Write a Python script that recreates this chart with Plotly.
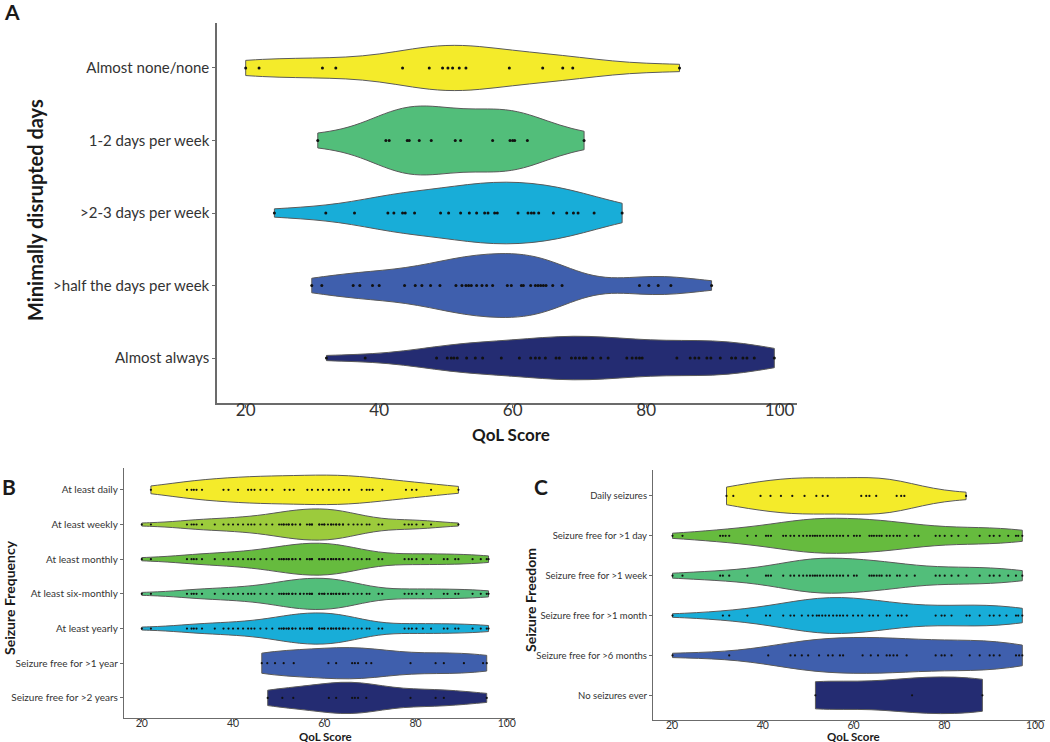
import numpy as np
import plotly.graph_objects as go

# ---------------- data (QoL scores) ----------------
# Panel A: minimally disrupted days
a_cats = ["Almost none/none", "1-2 days per week", ">2-3 days per week",
          ">half the days per week", "Almost always"]
a_none = [20, 22, 31.5, 33.5, 43.5, 47.5, 49.5, 50.3, 51, 52, 53, 59.5, 64.5, 67.5, 69, 85]
a_12 = [30.8, 41, 41.5, 44.2, 44.5, 46, 47.8, 51.4, 52.2, 57, 59.6, 60, 60.3, 62.2, 70.7]
a_23 = [24.3, 32, 36.3, 41.3, 42.2, 43.5, 43.9, 45.3, 49.2, 50.4, 52.2, 53.5, 54.6, 55.8,
        56.3, 57.3, 57.7, 60.8, 62.3, 62.8, 63.2, 63.9, 66.1, 68.1, 69.1, 69.8, 72.2, 76.4]
a_half = [29.9, 31.4, 36.1, 37.1, 39, 40, 43.8, 45.4, 46.4, 47.7, 49.1, 51.5, 52.4, 53, 53.4,
          53.8, 54.6, 55.4, 56.1, 57, 59.2, 59.8, 61.3, 61.6, 62.7, 63.4, 63.8, 64.2, 64.6,
          65, 66, 67.4, 79, 80.4, 81.8, 83.7, 89.8]
a_always = [32.1, 37.9, 48.6, 50.2, 50.8, 51.2, 51.7, 53.1, 54.4, 55.5, 58.3, 61, 62.7, 63.4,
            64, 64.9, 66.5, 67, 68.8, 69.4, 70, 70.6, 71, 72, 73.2, 74.3, 77.1, 77.9, 78.5,
            79, 79.4, 84.6, 86.6, 87.3, 87.9, 89.1, 89.7, 91.1, 92.8, 93.4, 94.5, 95.1, 96.2, 99.2]

# Panel B: seizure frequency
b_cats = ["At least daily", "At least weekly", "At least monthly", "At least six-monthly",
          "At least yearly", "Seizure free for >1 year", "Seizure free for >2 years"]
b_daily = [22.0, 29.9, 30.9, 31.4, 32.0, 33.2, 37.9, 39.0, 41.1, 43.3, 44.0, 44.7, 46.0, 47.3,
           48.6, 51.3, 52.4, 53.3, 56.3, 57.3, 58.6, 59.7, 61.0, 62.0, 63.2, 64.3, 65.4, 68.2,
           69.3, 69.9, 70.6, 72.7, 77.9, 79.2, 80.2, 83.4, 89.4]
b_weekly = [20, 22, 29.9, 30.9, 31.4, 32.0, 33.2, 36.0, 37.9, 39.0, 40.0, 41.1, 42.2, 43.3, 44.0,
            44.7, 46.0, 47.3, 48.6, 50.1, 50.6, 51.1, 51.1, 51.7, 52.2, 52.2, 53.0, 53.0, 53.7,
            54.7, 54.7, 56.2, 56.8, 56.8, 57.3, 57.3, 58.9, 58.9, 59.5, 60.0, 60.0, 60.8, 61.5,
            61.5, 62.0, 62.6, 62.6, 63.3, 63.3, 64.1, 64.1, 65.3, 66.4, 67.3, 68.2, 69.3, 69.9,
            71.9, 72.7, 77.6, 78.5, 79.2, 80.2, 81.6, 83.4, 89.4]
b_monthly = [20, 22, 29.9, 30.9, 31.4, 32.0, 33.2, 36.0, 37.9, 39.0, 40.0, 41.1, 42.2, 43.3, 44.0,
             44.7, 46.0, 47.3, 48.6, 50.1, 50.6, 51.1, 51.1, 51.7, 52.2, 52.2, 53.0, 53.0, 53.7,
             54.7, 54.7, 56.2, 56.8, 56.8, 57.3, 57.3, 58.9, 58.9, 59.5, 60.0, 60.0, 60.8, 61.5,
             61.5, 62.0, 62.6, 62.6, 63.3, 63.3, 64.1, 64.1, 65.3, 66.4, 67.3, 68.2, 69.3, 69.9,
             71.9, 72.7, 77.6, 78.5, 79.2, 80.2, 81.6, 83.4, 86.2, 87.0, 88.7, 89.4, 92.5, 94.3,
             95.6, 96.0]
b_sixmonthly = [20, 22, 29.9, 30.9, 31.4, 32.0, 33.2, 36.0, 37.9, 39.0, 40.0, 41.1, 42.2, 43.3,
                44.0, 44.7, 46.0, 47.3, 48.6, 50.1, 50.6, 51.1, 51.1, 51.7, 52.2, 52.2, 53.0, 53.0,
                53.7, 54.7, 54.7, 55.5, 56.2, 56.8, 56.8, 57.3, 57.3, 58.9, 58.9, 59.5, 60.0, 60.0,
                60.8, 61.5, 61.5, 62.0, 62.6, 62.6, 63.3, 63.3, 64.1, 64.1, 64.6, 65.3, 66.4, 67.3,
                68.2, 69.3, 69.9, 71.9, 72.7, 77.6, 78.5, 79.2, 80.2, 81.6, 83.4, 86.2, 87.0, 88.7,
                89.4, 92.5, 94.3, 95.6, 96.0]
b_yearly = [20, 22, 29.9, 30.9, 31.4, 32.0, 33.2, 36.0, 37.9, 39.0, 40.0, 41.1, 42.2, 43.3, 44.0,
            44.7, 46.0, 47.3, 48.6, 50.1, 50.6, 51.1, 51.1, 51.7, 52.2, 52.2, 53.0, 53.0, 53.7,
            54.7, 54.7, 55.5, 56.2, 56.8, 56.8, 57.3, 57.3, 58.9, 58.9, 59.5, 60.0, 60.0, 60.8,
            61.5, 61.5, 62.0, 62.6, 62.6, 63.3, 63.3, 64.1, 64.1, 64.6, 65.3, 66.4, 67.3, 68.2,
            69.3, 69.9, 71.9, 72.7, 77.6, 78.5, 79.2, 80.2, 81.6, 83.4, 86.2, 87.0, 88.7, 89.4,
            92.5, 94.3, 95.6, 96.0]
b_free1y = [46.3, 47.5, 49.2, 51.1, 53.3, 60.9, 62.6, 66.1, 66.7, 67.4, 69.2, 70.3, 78.9, 84.4,
            86.2, 90.6, 94.8, 95.6]
b_free2y = [47.6, 50.8, 53.2, 61.0, 62.6, 66.1, 66.7, 67.4, 69.2, 78.9, 84.4, 86.2, 95.6]

# Panel C: seizure freedom
c_cats = ["Daily seizures", "Seizure free for >1 day", "Seizure free for >1 week",
          "Seizure free for >1 month", "Seizure free for >6 months", "No seizures ever"]
c_daily = [32, 33.5, 39.5, 41.7, 44, 46.5, 49.2, 51.8, 53.2, 54.3, 61.7, 62.8, 63.5, 65,
           69.5, 70.5, 71.2, 84.8]
c_1day = [20.1, 22.3, 30.6, 31.2, 31.8, 32.6, 36.6, 38.5, 40.7, 41.2, 41.8, 44.5, 45.1, 46.1,
          46.9, 48.0, 48.9, 49.7, 50.4, 51.0, 51.5, 52.0, 52.6, 53.3, 54.1, 54.8, 55.5, 56.3,
          57.0, 57.7, 58.8, 60.1, 60.7, 61.4, 63.5, 64.0, 64.5, 65.1, 65.7, 66.2, 67.3, 68.0,
          68.8, 69.6, 70.2, 71.7, 73.5, 74.3, 78.1, 79.0, 80.1, 81.6, 83.1, 84.9, 87.8, 90.0,
          90.9, 92.2, 94.1, 95.8, 96.3, 97.2]
c_1week = [20.1, 22.3, 30.6, 31.2, 32.6, 36.6, 40.7, 41.2, 41.8, 44.5, 46.1, 46.9, 48.0, 48.9,
           49.7, 50.4, 51.0, 51.5, 52.0, 52.6, 53.3, 54.1, 54.8, 55.5, 56.3, 57.0, 57.7, 58.8,
           60.1, 60.7, 63.5, 64.0, 64.5, 65.1, 65.7, 66.2, 67.3, 68.0, 69.6, 70.2, 71.7, 73.5,
           78.1, 79.0, 80.1, 81.6, 83.1, 84.9, 87.8, 90.0, 90.9, 92.2, 94.1, 95.8, 97.2]
c_1month = [20.1, 31.2, 32.6, 36.6, 40.7, 41.6, 44.5, 46.1, 46.9, 48.6, 50.0, 51.0, 51.9, 52.4,
            53.1, 53.8, 54.6, 55.5, 56.3, 57.0, 57.7, 58.6, 59.9, 61.0, 61.9, 63.5, 64.3, 65.4,
            67.3, 68.0, 69.8, 70.6, 71.7, 78.1, 79.4, 80.1, 81.6, 84.9, 85.6, 87.8, 90.0, 90.9,
            92.2, 93.7, 95.8, 96.3, 97.2]
c_6months = [20.1, 32.6, 41.2, 46.1, 47.1, 48.6, 50.0, 52.4, 54.4, 55.4, 57.0, 57.7, 62.0,
             63.8, 65.4, 67.3, 68.0, 68.8, 69.6, 71.7, 78.1, 79.4, 80.1, 81.6, 85.6, 87.8, 90.0,
             90.9, 92.2, 95.8, 96.5, 97.2]
c_never = [51.6, 72.9, 88.4]

# ---------------- styling ----------------
yellow = "#F4EB2A"
lime = "#9CCB3C"
green = "#66BB3E"
teal = "#52BE7A"
cyan = "#18ADD8"
blue = "#3F5FAD"
navy = "#242C72"

FONT = "Lato"
W, H = 1050, 742


def nrd0(v):
    # same rule of thumb as R's bw.nrd0 (what ggplot's violins use)
    v = np.asarray(v, dtype=float)
    sd = v.std(ddof=1)
    iqr = np.subtract(*np.percentile(v, [75, 25]))
    lo = min(sd, iqr / 1.34) if iqr > 0 else sd
    return 0.9 * lo * len(v) ** -0.2


fig = go.Figure()


def add_panel(cats, series, colors, widths, xa, ya, msize):
    for cat, vals, col, w in zip(cats, series, colors, widths):
        fig.add_trace(go.Violin(
            x=vals, y=[cat] * len(vals), orientation="h",
            xaxis=xa, yaxis=ya,
            fillcolor=col, opacity=1,
            line=dict(color="#5a5a5a", width=1),
            points="all", pointpos=0, jitter=0,
            marker=dict(color="#111111", size=msize),
            spanmode="hard", bandwidth=nrd0(vals),
            scalemode="width", width=w,
            box_visible=False, meanline_visible=False,
            showlegend=False, hoverinfo="x",
        ))


add_panel(a_cats, [a_none, a_12, a_23, a_half, a_always],
          [yellow, teal, cyan, blue, navy], [0.62, 0.95, 0.85, 0.88, 0.6], "x", "y", 3)
add_panel(b_cats, [b_daily, b_weekly, b_monthly, b_sixmonthly, b_yearly, b_free1y, b_free2y],
          [yellow, lime, green, teal, cyan, blue, navy], [0.85, 0.9, 0.92, 0.9, 0.9, 0.9, 0.9],
          "x2", "y2", 2.2)
add_panel(c_cats, [c_daily, c_1day, c_1week, c_1month, c_6months, c_never],
          [yellow, green, teal, cyan, blue, navy], [0.92, 0.88, 0.88, 0.9, 0.9, 0.92],
          "x3", "y3", 2.2)


def px_x(p):
    return p / W


def px_y(p):
    return 1 - p / H


axis_common = dict(showgrid=False, zeroline=False, showline=True, linecolor="#6b6b6b",
                   ticks="outside", tickcolor="#6b6b6b", ticklen=3, automargin=False)

fig.update_layout(
    width=W, height=H, margin=dict(l=0, r=0, t=0, b=0),
    paper_bgcolor="white", plot_bgcolor="white",
    font=dict(family=FONT, color="#333333"),
    violinmode="overlay", violingap=0,
    xaxis=dict(domain=[px_x(217), px_x(797)], anchor="y", range=[15.7, 102.6],
               tickvals=[20, 40, 60, 80, 100], tickfont=dict(size=17), linewidth=1.5,
               ticklabelstandoff=-12, **axis_common),
    yaxis=dict(domain=[px_y(403), px_y(23)], anchor="x", type="category",
               categoryorder="array", categoryarray=a_cats[::-1], range=[-0.62, 4.62],
               tickfont=dict(size=15), linewidth=1.5, **axis_common),
    xaxis2=dict(domain=[px_x(124), px_x(515)], anchor="y2", range=[16.1, 101.8],
                tickvals=[20, 40, 60, 80, 100], tickfont=dict(size=10.5), linewidth=1.2,
                ticklabelstandoff=-8, **axis_common),
    yaxis2=dict(domain=[px_y(718), px_y(468)], anchor="x2", type="category",
                categoryorder="array", categoryarray=b_cats[::-1], range=[-0.58, 6.63],
                tickfont=dict(size=10), linewidth=1.2, **axis_common),
    xaxis3=dict(domain=[px_x(653), px_x(1045)], anchor="y3", range=[15.8, 102.2],
                tickvals=[20, 40, 60, 80, 100], tickfont=dict(size=10.5), linewidth=1.2,
                ticklabelstandoff=-8, **axis_common),
    yaxis3=dict(domain=[px_y(720), px_y(470)], anchor="x3", type="category",
                categoryorder="array", categoryarray=c_cats[::-1], range=[-0.62, 5.65],
                tickfont=dict(size=9.5), linewidth=1.2, **axis_common),
)

labels = [
    ("A", 12, 12, 21, 0), ("B", 9, 487, 21, 0), ("C", 541, 487, 21, 0),
    ("QoL Score", 511, 434, 17, 0), ("QoL Score", 325, 736, 11.5, 0), ("QoL Score", 853, 736, 11.5, 0),
    ("Minimally disrupted days", 35, 210, 20, -90), ("Seizure Frequency", 9, 598, 14, -90),
    ("Seizure Freedom", 530, 600, 14, -90),
]
for txt, x, y, size, ang in labels:
    fig.add_annotation(text="<b>%s</b>" % txt, x=px_x(x), y=px_y(y), xref="paper", yref="paper",
                       showarrow=False, textangle=ang, xanchor="center", yanchor="middle",
                       font=dict(size=size, color="#1a1a1a", family=FONT))

# page body has an 8px default margin; drop it so the figure fills the window
fig.write_html("out.html", config={"displayModeBar": False},
               post_script="document.body.style.margin='0';")
